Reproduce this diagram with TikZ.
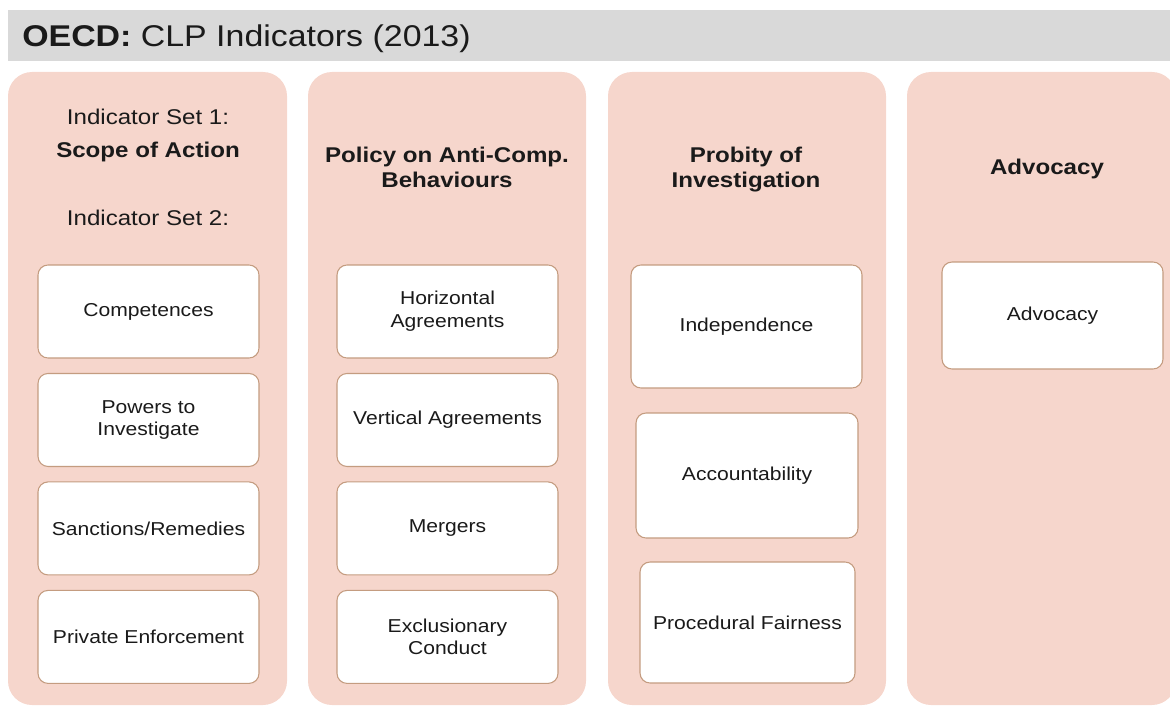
\documentclass[tikz,border=0pt]{standalone}
\usepackage{fontspec}
\setmainfont{Liberation Sans}[FakeStretch=1.13]
\usetikzlibrary{positioning}
\definecolor{panelpink}{RGB}{246,214,204}
\definecolor{titlegrey}{RGB}{217,217,217}
\definecolor{boxline}{RGB}{196,156,128}
\definecolor{inktext}{RGB}{26,26,26}
\tikzset{
  catpanel/.style={fill=panelpink,rounded corners=18pt},
  indbox/.style={draw=boxline,fill=white,line width=0.8pt,rounded corners=7.5pt,
    minimum width=165.75pt,minimum height=69.75pt,align=center,inner sep=2pt,
    text=inktext,font=\fontsize{14}{17}\selectfont},
  cathead/.style={align=center,anchor=base,text=inktext,inner sep=0pt,
    font=\fontsize{16}{18}\selectfont\bfseries},
  setlabel/.style={anchor=base,text=inktext,inner sep=0pt,font=\fontsize{16}{18}\selectfont}
}

\begin{document}
\begin{tikzpicture}[x=0.75pt,y=-0.75pt,node distance=10.8pt]
  \useasboundingbox (0,0) rectangle (1170,706);
  % title bar
  \fill[titlegrey] (8,10) rectangle (1170,61);
  \node[anchor=base west,inner sep=0pt,text=inktext,font=\fontsize{22.5}{26}\selectfont]
    (title) at (22,46.5) {\textbf{OECD:} CLP Indicators (2013)};

  % the four panels
  \fill[catpanel] (8,72) rectangle (287,705);
  \fill[catpanel] (308,72) rectangle (586,705);
  \fill[catpanel] (608,72) rectangle (886,705);
  \fill[catpanel] (907,72) rectangle (1176,705);

  % panel 1
  \node[setlabel] (set1) at (148,125) {Indicator Set 1:};
  \node[setlabel,font=\fontsize{16}{18}\selectfont\bfseries] (scope) at (148,157) {Scope of Action};
  \node[setlabel] (set2) at (148,225) {Indicator Set 2:};
  \node[indbox] (comp) at (148.5,311.5) {Competences};
  \node[indbox] (powers) [below=of comp] {Powers to\\Investigate};
  \node[indbox] (sanct) [below=of powers] {Sanctions/Remedies};
  \node[indbox] (private) [below=of sanct] {Private Enforcement};

  % panel 2 (base = last line)
  \node[cathead] (policy) at (447,187) {Policy on Anti-Comp.\\Behaviours};
  \node[indbox] (horiz) at (447.5,311.5) {Horizontal\\Agreements};
  \node[indbox] (vert) [below=of horiz] {Vertical Agreements};
  \node[indbox] (mergers) [below=of vert] {Mergers};
  \node[indbox] (exclus) [below=of mergers] {Exclusionary\\Conduct};

  % panel 3
  \node[cathead] (probity) at (746,187) {Probity of\\Investigation};
  \node[indbox,minimum width=173.25pt,minimum height=92.25pt] (indep) at (746.5,326.5) {Independence};
  \node[indbox,minimum width=166.5pt,minimum height=93.75pt] (account) at (747,475.5) {Accountability};
  \node[indbox,minimum width=161.25pt,minimum height=90.75pt] (fair) at (747.5,622.5) {Procedural Fairness};

  % panel 4
  \node[cathead] (advhead) at (1047,175) {Advocacy};
  \node[indbox,minimum height=80.25pt] (advocacy) at (1052.5,315.5) {Advocacy};
\end{tikzpicture}
\end{document}
